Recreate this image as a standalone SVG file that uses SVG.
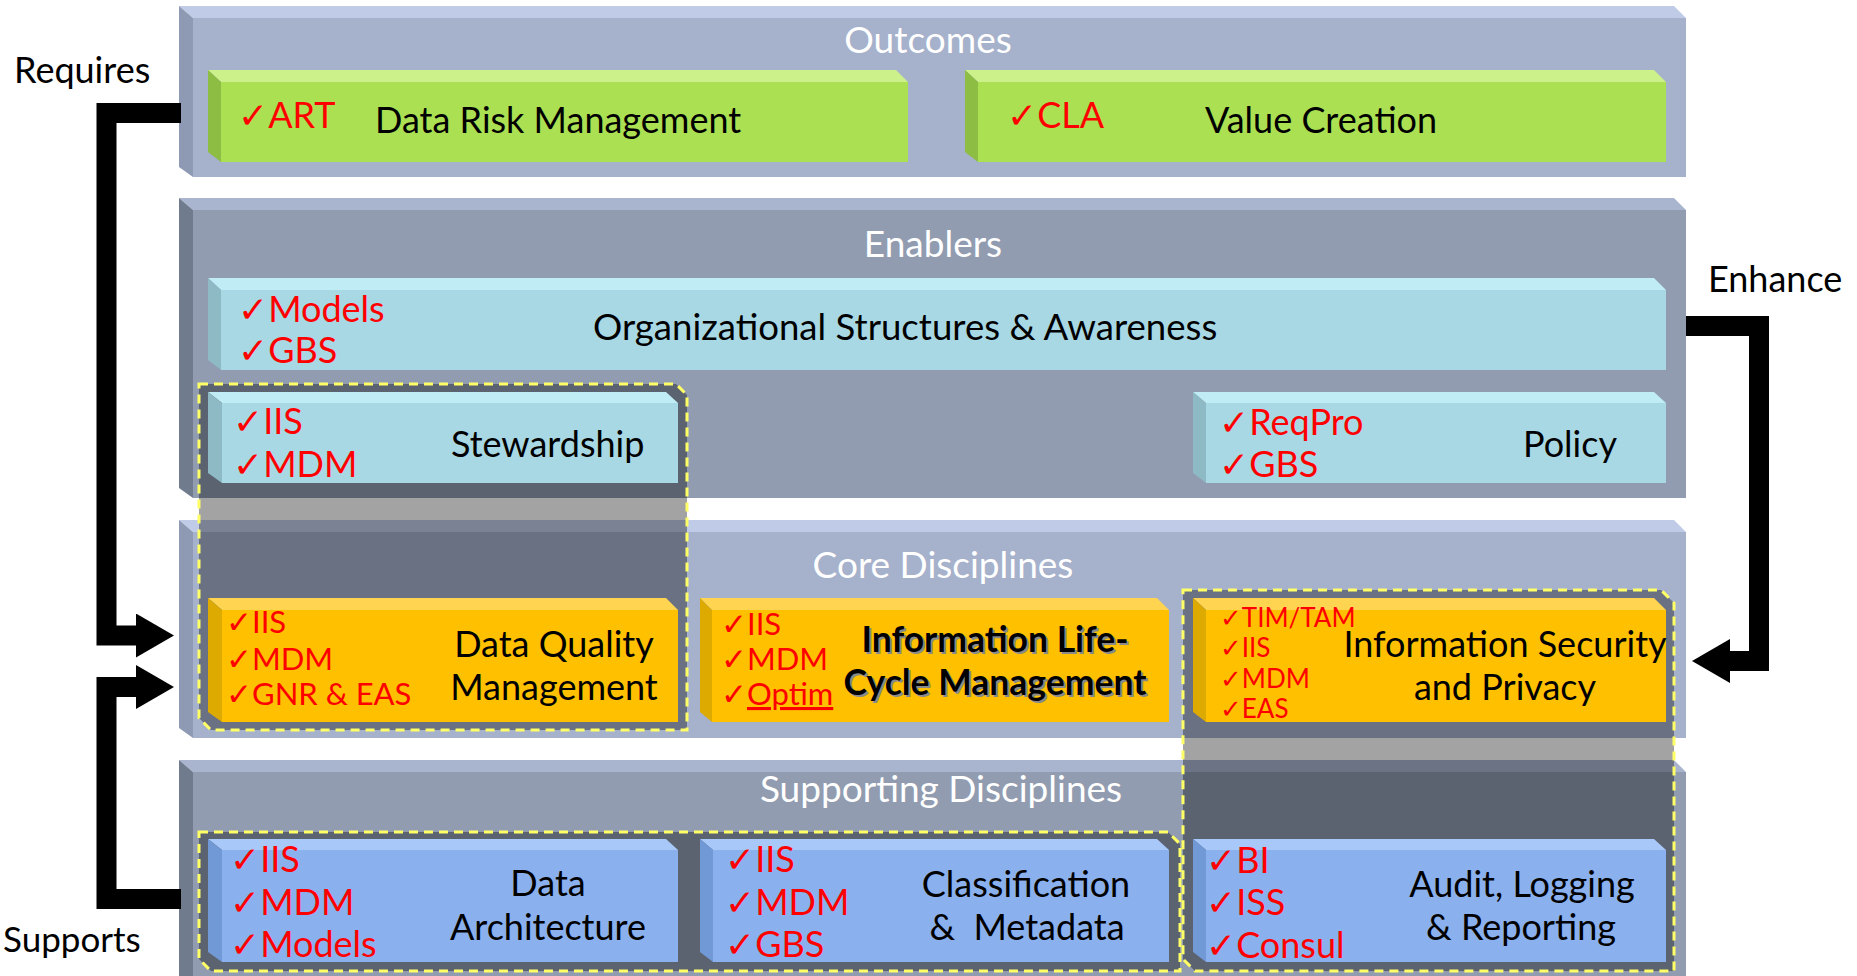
<svg xmlns="http://www.w3.org/2000/svg" width="1857" height="976" viewBox="0 0 1857 976">
<defs>
<style>
text{font-family:Lato,"Liberation Sans","DejaVu Sans",sans-serif}
.ck{font-family:"DejaVu Sans",sans-serif;font-weight:bold}
.title{fill:#ffffff;font-size:37px;text-anchor:middle}
.lbl{fill:#000000;font-size:36px}
.mid{text-anchor:middle}
.red{fill:#ff0000;font-size:36px}
.red2{fill:#ff0000;font-size:31px}
.red3{fill:#ff0000;font-size:26px}
.side{fill:#000000;font-size:36px}
.bold{font-weight:bold;font-size:35.5px;text-anchor:middle}
.lt .f{fill:#a6b1cb}.lt .t{fill:#bfcbe7}.lt .l{fill:#8e9ab3}
.dk .f{fill:#919cb0}.dk .t{fill:#a9b5cf}.dk .l{fill:#707b8e}
.gr .f{fill:#abe052}.gr .t{fill:#ccf08a}.gr .l{fill:#8dbd42}
.cy .f{fill:#a8d8e4}.cy .t{fill:#bfecf5}.cy .l{fill:#8dbac4}
.or .f{fill:#ffc000}.or .t{fill:#ffd451}.or .l{fill:#dcaa00}
.bl .f{fill:#8ab0ee}.bl .t{fill:#a8c8fa}.bl .l{fill:#7199d6}
.hl{fill:#000000;fill-opacity:0.36;stroke:none}
.hd{fill:none;stroke:#ffff66;stroke-width:3;stroke-dasharray:9 6}
.conn{fill:none;stroke:#000000;stroke-width:20;stroke-linejoin:miter;stroke-linecap:butt}
</style>
<marker id="ah" viewBox="0 0 38 44" refX="1" refY="22" markerWidth="38" markerHeight="44" markerUnits="userSpaceOnUse" orient="auto">
<path d="M0,0 L38,22 L0,44 Z" fill="#000000"/>
</marker>
</defs>
<rect x="0" y="0" width="1857" height="976" fill="#ffffff"/>

<!-- Panels -->
<g id="panel-outcomes" class="lt">
<polygon class="t" points="179,6 1674,6 1686,18 193,18"/>
<polygon class="l" points="179,6 193,18 193,177 179,167"/>
<rect class="f" x="193" y="18" width="1493" height="159"/>
<text class="title" x="928" y="53">Outcomes</text>
</g>
<g id="panel-enablers" class="dk">
<polygon class="t" points="179,198 1674,198 1686,210 193,210"/>
<polygon class="l" points="179,198 193,210 193,498 179,488"/>
<rect class="f" x="193" y="210" width="1493" height="288"/>
<text class="title" x="933" y="257">Enablers</text>
</g>
<g id="panel-core" class="lt">
<polygon class="t" points="179,520 1674,520 1686,532 193,532"/>
<polygon class="l" points="179,520 193,532 193,738 179,728"/>
<rect class="f" x="193" y="532" width="1493" height="206"/>
<text class="title" x="943" y="578">Core Disciplines</text>
</g>
<g id="panel-supporting" class="dk">
<polygon class="t" points="179,760 1674,760 1686,772 193,772"/>
<polygon class="l" points="179,760 193,772 193,990 179,980"/>
<rect class="f" x="193" y="772" width="1493" height="218"/>
<text class="title" x="941" y="802">Supporting Disciplines</text>
</g>

<!-- Highlight regions -->
<g id="highlight-1">
<path class="hl" d="M199,384 H676 L687,395 V730 H211 L199,718 Z"/>
<path class="hd" d="M199,384 H676 L687,395 V730 H211 L199,718 Z"/>
</g>
<g id="highlight-2">
<path class="hl" d="M1183,590 H1661 L1674,603 V971 H1195 L1183,959 Z"/>
<path class="hd" d="M1183,590 H1661 L1674,603 V971 H1195 L1183,959 Z"/>
</g>
<g id="highlight-3">
<path class="hl" d="M199,832 H1168 L1180,844 V971 H211 L199,959 Z"/>
<path class="hd" d="M199,832 H1168 L1180,844 V971 H211 L199,959 Z"/>
</g>

<!-- Outcomes boxes -->
<g id="data-risk-management" class="gr">
<polygon class="t" points="208,70 896,70 908,82 221,82"/>
<polygon class="l" points="208,70 221,82 221,162 208,152"/>
<rect class="f" x="221" y="82" width="687" height="80"/>
<text class="red" x="238" y="128"><tspan class="ck">✓</tspan>ART</text>
<text class="lbl" x="375" y="133">Data Risk Management</text>
</g>
<g id="value-creation" class="gr">
<polygon class="t" points="965,70 1654,70 1666,82 978,82"/>
<polygon class="l" points="965,70 978,82 978,162 965,152"/>
<rect class="f" x="978" y="82" width="688" height="80"/>
<text class="red" x="1007" y="128"><tspan class="ck">✓</tspan>CLA</text>
<text class="lbl" x="1205" y="133">Value Creation</text>
</g>

<!-- Enablers boxes -->
<g id="organizational-structures" class="cy">
<polygon class="t" points="208,278 1654,278 1666,290 221,290"/>
<polygon class="l" points="208,278 221,290 221,370 208,360"/>
<rect class="f" x="221" y="290" width="1445" height="80"/>
<text class="red" x="238" y="322"><tspan class="ck">✓</tspan>Models</text>
<text class="red" x="238" y="363"><tspan class="ck">✓</tspan>GBS</text>
<text class="lbl" x="593" y="340" style="font-size:36.6px">Organizational Structures &amp; Awareness</text>
</g>
<g id="stewardship" class="cy">
<polygon class="t" points="208,392 666,392 678,403 222,403"/>
<polygon class="l" points="208,392 222,403 222,483 208,473"/>
<rect class="f" x="222" y="403" width="456" height="80"/>
<text class="red" x="233" y="434"><tspan class="ck">✓</tspan>IIS</text>
<text class="red" x="233" y="477"><tspan class="ck">✓</tspan>MDM</text>
<text class="lbl" x="451" y="457">Stewardship</text>
</g>
<g id="policy" class="cy">
<polygon class="t" points="1193,392 1654,392 1666,403 1206,403"/>
<polygon class="l" points="1193,392 1206,403 1206,483 1193,473"/>
<rect class="f" x="1206" y="403" width="460" height="80"/>
<text class="red" x="1219" y="435"><tspan class="ck">✓</tspan>ReqPro</text>
<text class="red" x="1219" y="477"><tspan class="ck">✓</tspan>GBS</text>
<text class="lbl" x="1523" y="457">Policy</text>
</g>

<!-- Core boxes -->
<g id="data-quality-management" class="or">
<polygon class="t" points="208,598 666,598 678,610 222,610"/>
<polygon class="l" points="208,598 222,610 222,722 208,712"/>
<rect class="f" x="222" y="610" width="456" height="112"/>
<text class="red2" x="226" y="633"><tspan class="ck">✓</tspan>IIS</text>
<text class="red2" x="226" y="670"><tspan class="ck">✓</tspan>MDM</text>
<text class="red2" x="226" y="705"><tspan class="ck">✓</tspan>GNR &amp; EAS</text>
<text class="lbl mid" x="554" y="657">Data Quality</text>
<text class="lbl mid" x="554" y="700">Management</text>
</g>
<g id="information-lifecycle-management" class="or">
<polygon class="t" points="700,598 1157,598 1169,610 712,610"/>
<polygon class="l" points="700,598 712,610 712,722 700,712"/>
<rect class="f" x="712" y="610" width="457" height="112"/>
<text class="red2" x="721" y="635"><tspan class="ck">✓</tspan>IIS</text>
<text class="red2" x="721" y="670"><tspan class="ck">✓</tspan>MDM</text>
<text class="red2" x="721" y="705"><tspan class="ck">✓</tspan><tspan text-decoration="underline">Optim</tspan></text>
<text class="bold" x="997" y="654" fill="#8a8a8a">Information Life-</text>
<text class="bold" x="997" y="697" fill="#8a8a8a">Cycle Management</text>
<text class="bold" x="995" y="652" fill="#000000">Information Life-</text>
<text class="bold" x="995" y="695" fill="#000000">Cycle Management</text>
</g>
<g id="information-security-privacy" class="or">
<polygon class="t" points="1193,598 1654,598 1666,610 1206,610"/>
<polygon class="l" points="1193,598 1206,610 1206,722 1193,712"/>
<rect class="f" x="1206" y="610" width="460" height="112"/>
<text class="red3" x="1220" y="627"><tspan class="ck">✓</tspan>TIM/TAM</text>
<text class="red3" x="1220" y="657"><tspan class="ck">✓</tspan>IIS</text>
<text class="red3" x="1220" y="688"><tspan class="ck">✓</tspan>MDM</text>
<text class="red3" x="1220" y="718"><tspan class="ck">✓</tspan>EAS</text>
<text class="lbl mid" x="1505" y="657">Information Security</text>
<text class="lbl mid" x="1505" y="700">and Privacy</text>
</g>

<!-- Supporting boxes -->
<g id="data-architecture" class="bl">
<polygon class="t" points="208,839 666,839 678,850 222,850"/>
<polygon class="l" points="208,839 222,850 222,962 208,952"/>
<rect class="f" x="222" y="850" width="456" height="112"/>
<text class="red" x="230" y="872"><tspan class="ck">✓</tspan>IIS</text>
<text class="red" x="230" y="915"><tspan class="ck">✓</tspan>MDM</text>
<text class="red" x="230" y="957"><tspan class="ck">✓</tspan>Models</text>
<text class="lbl mid" x="548" y="896">Data</text>
<text class="lbl mid" x="548" y="940">Architecture</text>
</g>
<g id="classification-metadata" class="bl">
<polygon class="t" points="700,839 1157,839 1169,850 713,850"/>
<polygon class="l" points="700,839 713,850 713,962 700,952"/>
<rect class="f" x="713" y="850" width="456" height="112"/>
<text class="red" x="725" y="872"><tspan class="ck">✓</tspan>IIS</text>
<text class="red" x="725" y="915"><tspan class="ck">✓</tspan>MDM</text>
<text class="red" x="725" y="957"><tspan class="ck">✓</tspan>GBS</text>
<text class="lbl mid" x="1026" y="897">Classification</text>
<text class="lbl mid" x="1027" y="940" xml:space="preserve">&amp;  Metadata</text>
</g>
<g id="audit-logging-reporting" class="bl">
<polygon class="t" points="1193,839 1654,839 1666,850 1206,850"/>
<polygon class="l" points="1193,839 1206,850 1206,962 1193,952"/>
<rect class="f" x="1206" y="850" width="460" height="112"/>
<text class="red" x="1206" y="873"><tspan class="ck">✓</tspan>BI</text>
<text class="red" x="1206" y="915"><tspan class="ck">✓</tspan>ISS</text>
<text class="red" x="1206" y="958"><tspan class="ck">✓</tspan>Consul</text>
<text class="lbl mid" x="1522" y="897">Audit, Logging</text>
<text class="lbl mid" x="1521" y="940">&amp; Reporting</text>
</g>

<!-- Connectors -->
<g id="connectors">
<path class="conn" d="M181,113 H106.5 V635.5 H137" marker-end="url(#ah)"/>
<path class="conn" d="M181,899 H106.5 V687 H137" marker-end="url(#ah)"/>
<path class="conn" d="M1686,326 H1759 V661 H1729" marker-end="url(#ah)"/>
<text class="side" x="14" y="83">Requires</text>
<text class="side" x="3" y="952" style="font-size:35px">Supports</text>
<text class="side" x="1708" y="292">Enhance</text>
</g>
</svg>
